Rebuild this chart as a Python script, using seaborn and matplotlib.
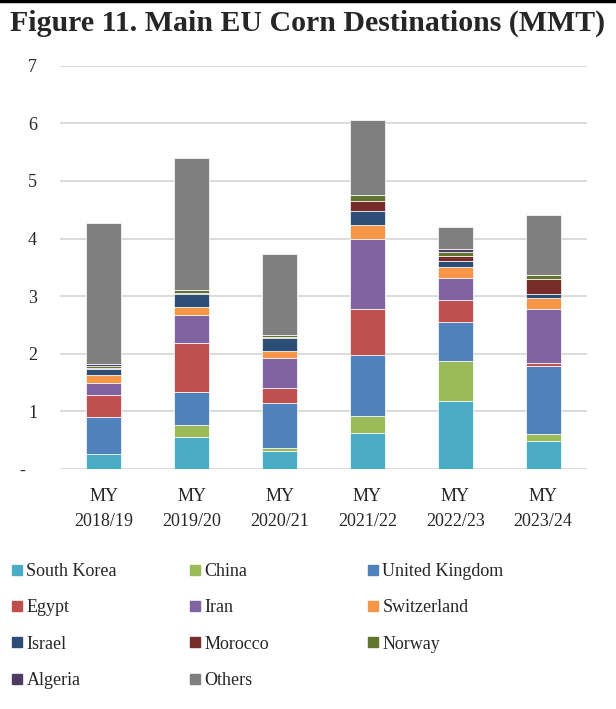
import matplotlib
matplotlib.use("Agg")
import matplotlib.pyplot as plt
import matplotlib.transforms as mtransforms
import seaborn as sns
import numpy as np
from matplotlib.lines import Line2D

years = ["MY\n2018/19", "MY\n2019/20", "MY\n2020/21", "MY\n2021/22", "MY\n2022/23", "MY\n2023/24"]
south_korea = [0.26, 0.55, 0.32, 0.62, 1.18, 0.48]
china = [0.00, 0.21, 0.05, 0.30, 0.69, 0.13]
united_kingdom = [0.65, 0.58, 0.77, 1.05, 0.68, 1.17]
egypt = [0.37, 0.85, 0.26, 0.81, 0.39, 0.06]
iran = [0.21, 0.48, 0.52, 1.21, 0.38, 0.94]
switzerland = [0.14, 0.14, 0.13, 0.24, 0.19, 0.19]
israel = [0.11, 0.23, 0.22, 0.24, 0.10, 0.06]
morocco = [0.02, 0.01, 0.02, 0.19, 0.08, 0.27]
norway = [0.02, 0.05, 0.03, 0.10, 0.07, 0.07]
algeria = [0.05, 0.00, 0.00, 0.00, 0.06, 0.00]
others = [2.44, 2.29, 1.42, 1.29, 0.38, 1.03]

series_names = ["South Korea", "China", "United Kingdom", "Egypt", "Iran", "Switzerland",
                "Israel", "Morocco", "Norway", "Algeria", "Others"]
series_values = [south_korea, china, united_kingdom, egypt, iran, switzerland,
                 israel, morocco, norway, algeria, others]
colors = ["#4BACC6", "#9BBB59", "#4F81BD", "#C0504D", "#8064A2", "#F79646",
          "#2C4D75", "#772C2A", "#5F7530", "#4D3B62", "#7F7F7F"]
yticks = [0, 1, 2, 3, 4, 5, 6, 7]
ytick_labels = ["-", "1", "2", "3", "4", "5", "6", "7"]

sns.set_style("white")
plt.rcParams["font.family"] = ["Liberation Serif", "DejaVu Serif"]

W, H = 616, 709
fig = plt.figure(figsize=(W / 100, H / 100), dpi=100)
ax = fig.add_axes([60 / W, 1 - 469 / H, 527 / W, (469 - 65.7) / H])

bottom = np.zeros(len(years))
for name, vals, c in zip(series_names, series_values, colors):
    vals = np.array(vals, dtype=float)
    sns.barplot(x=years, y=vals, bottom=bottom.copy(), color=c, saturation=1,
                width=0.4, errorbar=None, order=years, ax=ax,
                edgecolor="white", linewidth=0.5, zorder=3)
    bottom += vals

ax.set_ylim(0, 7)
ax.set_yticks(yticks)
ax.set_yticklabels(ytick_labels, fontsize=13)
ax.yaxis.grid(True, color="#d9d9d9", linewidth=1.3, zorder=0)
ax.set_axisbelow(True)
for s in ax.spines.values():
    s.set_visible(False)
ax.tick_params(axis="y", length=0, pad=16.5)
ax.tick_params(axis="x", length=0, pad=13.5, labelsize=13)
for lbl in ax.get_xticklabels():
    lbl.set_linespacing(1.6)
ax.set_xlabel("")
ax.set_ylabel("")
ax.set_xlim(-0.5, 5.5)

zero_lbl = ax.get_yticklabels()[0]
zero_lbl.set_transform(zero_lbl.get_transform() +
                       mtransforms.ScaledTranslation(-0.12, 0, fig.dpi_scale_trans))

fig.text(W / 2 / W, 1 - 23 / H, "Figure 11. Main EU Corn Destinations (MMT)",
         ha="center", va="center", fontsize=21.5, fontweight="bold")
fig.add_artist(plt.Line2D([0, 1], [1 - 1 / H, 1 - 1 / H], color="black", linewidth=2.5,
                          transform=fig.transFigure))

cols = [[0, 3, 6, 9], [1, 4, 7, 10], [2, 5, 8]]
xs = [11, 189, 367]
for xi, idxs in zip(xs, cols):
    handles = [Line2D([], [], marker="s", linestyle="none", markersize=7,
                      color=colors[i]) for i in idxs]
    labels = [series_names[i] for i in idxs]
    fig.legend(handles, labels, loc="upper left", bbox_to_anchor=(xi / W, 1 - 563 / H),
               frameon=False, fontsize=13, handlelength=0.7, handletextpad=0.15,
               borderpad=0, borderaxespad=0, labelspacing=1.07)

fig.savefig("out.png", dpi=100)
